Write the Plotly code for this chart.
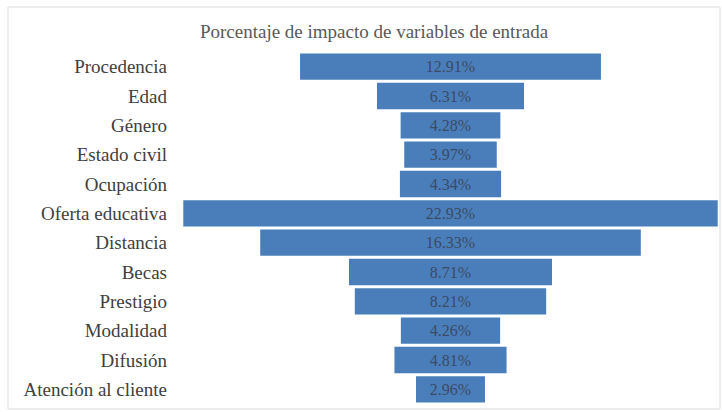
import plotly.graph_objects as go

# Input variables and their impact share (%)
categories = [
    "Procedencia", "Edad", "Género", "Estado civil", "Ocupación",
    "Oferta educativa", "Distancia", "Becas", "Prestigio", "Modalidad",
    "Difusión", "Atención al cliente",
]
impact_pct = [12.91, 6.31, 4.28, 3.97, 4.34, 22.93, 16.33, 8.71, 8.21, 4.26, 4.81, 2.96]
value_labels = [f"{v:.2f}%" for v in impact_pct]

W, H = 722, 412
ML, MR, MT, MB = 182, 3, 52, 8
SERIF = "Times New Roman, Liberation Serif, DejaVu Serif, serif"

fig = go.Figure(
    go.Funnel(
        y=categories,
        x=impact_pct,
        text=value_labels,
        textinfo="text",
        textposition="inside",
        insidetextanchor="middle",
        textfont=dict(family=SERIF, size=16, color="#3B4B63"),
        marker=dict(color="#4A7EBB", line=dict(color="#4A7EBB", width=0)),
        connector=dict(visible=False),
        hoverinfo="y+text",
    )
)

# helper: pixel -> paper coords for the frame around the chart
pw, ph = W - ML - MR, H - MT - MB
def px_x(x):
    return (x - ML) / pw
def px_y(y):
    return 1 - (y - MT) / ph

fig.add_shape(
    type="rect", xref="paper", yref="paper",
    x0=px_x(8), x1=px_x(720), y0=px_y(409), y1=px_y(7),
    line=dict(color="#D9D9D9", width=1), fillcolor="rgba(0,0,0,0)", layer="below",
)

fig.update_layout(
    width=W, height=H,
    margin=dict(l=ML, r=MR, t=MT, b=MB),
    paper_bgcolor="white", plot_bgcolor="white",
    font=dict(family=SERIF),
    title=dict(
        text="Porcentaje de impacto de variables de entrada",
        x=(374) / W, xanchor="center", y=1 - 31 / H, yanchor="middle",
        font=dict(family=SERIF, size=19, color="#595959"),
    ),
    funnelgap=0.1,
    showlegend=False,
    xaxis=dict(visible=False, range=[-11.52, 11.52]),
    yaxis=dict(
        tickfont=dict(family=SERIF, size=19, color="#404040"),
        ticks="", showline=False, showgrid=False,
        ticklabelstandoff=14,
    ),
)

fig.write_html("out.html")
